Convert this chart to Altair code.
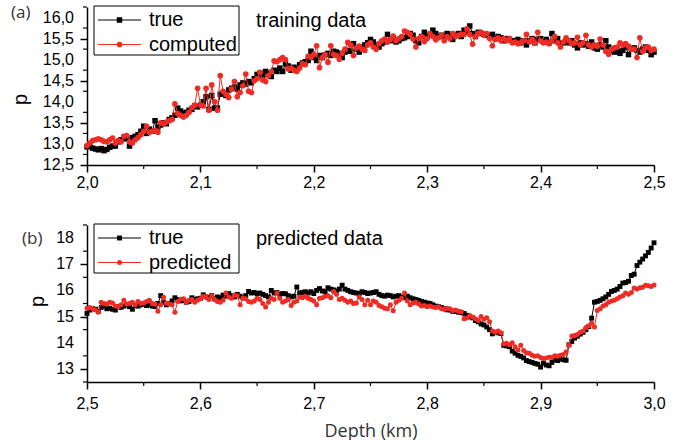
import altair as alt
import pandas as pd

# ---------------- data ----------------
depth_a = [round(2.0 + 0.0025 * i, 4) for i in range(201)]
depth_b = [round(2.5 + 0.0025 * i, 4) for i in range(201)]

true_a = [
    12.93, 12.95, 12.90, 12.88, 12.86, 12.89, 12.84, 12.87, 12.92, 12.95,
    12.95, 13.05, 13.10, 13.15, 13.12, 12.95, 13.15, 13.18, 13.22, 13.30,
    13.42, 13.25, 13.35, 13.30, 13.55, 13.40, 13.45, 13.50, 13.48, 13.58,
    13.62, 13.68, 13.85, 13.78, 13.72, 13.75, 13.80, 13.82, 13.90, 13.88,
    13.92, 14.00, 14.12, 13.82, 14.15, 13.85, 13.85, 14.18, 14.20, 14.15,
    14.28, 14.32, 14.35, 14.30, 14.40, 14.45, 14.42, 14.48, 14.45, 14.55,
    14.65, 14.68, 14.62, 14.72, 14.68, 14.60, 14.75, 14.72, 14.80, 14.72,
    14.90, 14.85, 14.75, 14.82, 14.78, 14.88, 14.92, 14.95, 14.98, 15.20,
    15.05, 14.98, 15.10, 15.05, 15.12, 15.15, 15.10, 15.20, 15.18, 15.15,
    15.05, 15.18, 15.22, 15.20, 15.38, 15.25, 15.18, 15.30, 15.35, 15.40,
    15.48, 15.42, 15.35, 15.30, 15.38, 15.42, 15.60, 15.45, 15.48, 15.42,
    15.45, 15.50, 15.52, 15.55, 15.62, 15.58, 15.45, 15.40, 15.55, 15.65,
    15.55, 15.60, 15.70, 15.62, 15.55, 15.58, 15.55, 15.62, 15.60, 15.48,
    15.58, 15.62, 15.55, 15.70, 15.65, 15.80, 15.62, 15.55, 15.65, 15.62,
    15.60, 15.58, 15.55, 15.60, 15.50, 15.55, 15.52, 15.45, 15.50, 15.48,
    15.45, 15.42, 15.48, 15.40, 15.45, 15.35, 15.45, 15.50, 15.40, 15.48,
    15.50, 15.42, 15.48, 15.40, 15.62, 15.45, 15.50, 15.38, 15.40, 15.45,
    15.40, 15.45, 15.35, 15.28, 15.40, 15.35, 15.38, 15.32, 15.42, 15.28,
    15.25, 15.35, 15.30, 15.45, 15.30, 15.22, 15.18, 15.20, 15.15, 15.22,
    15.30, 15.12, 15.25, 15.28, 15.22, 15.18, 15.25, 15.30, 15.22, 15.12,
    15.18,
]

computed_a = [
    12.96, 13.02, 13.08, 13.10, 13.12, 13.10, 13.06, 13.05, 13.10, 13.14,
    13.02, 13.08, 13.05, 13.18, 13.20, 13.05, 13.02, 13.10, 13.15, 13.22,
    13.30, 13.42, 13.28, 13.30, 13.32, 13.28, 13.50, 13.48, 13.52, 13.55,
    13.58, 13.95, 13.72, 13.68, 13.64, 13.68, 13.75, 13.86, 13.92, 14.32,
    13.92, 13.90, 14.32, 13.80, 14.40, 14.00, 13.80, 14.62, 14.25, 14.18,
    14.10, 14.30, 14.48, 14.12, 14.22, 14.38, 14.66, 14.25, 14.22, 14.50,
    14.55, 14.70, 14.52, 14.48, 14.62, 14.72, 14.97, 14.95, 15.00, 15.05,
    15.00, 14.78, 14.80, 14.75, 14.72, 14.80, 14.90, 14.88, 15.08, 15.06,
    15.12, 15.33, 14.81, 15.05, 15.12, 14.94, 15.33, 15.12, 15.10, 15.01,
    15.15, 15.25, 15.41, 15.35, 15.10, 15.28, 15.32, 15.25, 15.22, 15.35,
    15.40, 15.30, 15.25, 15.38, 15.45, 15.49, 15.42, 15.48, 15.56, 15.45,
    15.50, 15.55, 15.68, 15.65, 15.60, 15.49, 15.30, 15.50, 15.55, 15.43,
    15.50, 15.62, 15.55, 15.47, 15.52, 15.58, 15.45, 15.55, 15.50, 15.62,
    15.55, 15.58, 15.60, 15.60, 15.73, 15.60, 15.37, 15.55, 15.62, 15.65,
    15.58, 15.62, 15.50, 15.33, 15.48, 15.52, 15.45, 15.50, 15.45, 15.50,
    15.40, 15.42, 15.38, 15.40, 15.45, 15.60, 15.42, 15.48, 15.40, 15.65,
    15.45, 15.40, 15.42, 15.38, 15.45, 15.55, 15.40, 15.30, 15.42, 15.52,
    15.45, 15.38, 15.40, 15.53, 15.35, 15.40, 15.58, 15.35, 15.30, 15.35,
    15.32, 15.49, 15.35, 15.20, 15.13, 15.25, 15.28, 15.30, 15.40, 15.35,
    15.38, 15.32, 15.25, 15.25, 15.05, 15.52, 15.20, 15.28, 15.30, 15.22,
    15.25,
]

true_b = [
    15.12, 15.25, 15.30, 15.28, 15.20, 15.35, 15.40, 15.30, 15.32, 15.28,
    15.25, 15.38, 15.35, 15.40, 15.45, 15.38, 15.28, 15.42, 15.40, 15.45,
    15.48, 15.42, 15.45, 15.40, 15.38, 15.50, 15.80, 15.55, 15.45, 15.50,
    15.60, 15.72, 15.65, 15.60, 15.62, 15.55, 15.58, 15.72, 15.65, 15.68,
    15.70, 15.83, 15.75, 15.72, 15.80, 15.68, 15.75, 15.72, 15.82, 15.78,
    15.88, 15.80, 15.75, 15.85, 15.78, 15.72, 15.80, 15.96, 15.90, 15.92,
    15.88, 15.90, 15.85, 15.80, 15.75, 16.00, 15.90, 15.92, 15.85, 15.88,
    15.87, 15.80, 15.75, 15.78, 16.13, 15.90, 15.92, 15.95, 15.90, 15.95,
    15.88, 16.00, 16.07, 15.98, 15.95, 16.10, 16.05, 16.02, 15.98, 16.05,
    16.20, 16.05, 16.00, 15.95, 15.92, 15.90, 15.88, 15.95, 15.92, 15.88,
    15.90, 15.92, 15.95, 15.85, 15.80, 15.78, 15.82, 15.80, 15.75, 15.78,
    15.80, 15.75, 15.72, 15.78, 15.72, 15.68, 15.65, 15.62, 15.58, 15.55,
    15.52, 15.50, 15.45, 15.40, 15.38, 15.35, 15.30, 15.26, 15.25, 15.20,
    15.20, 15.17, 15.15, 15.12, 15.05, 15.00, 14.95, 14.85, 14.80, 14.72,
    14.68, 14.60, 14.50, 14.34, 14.40, 14.38, 14.35, 13.90, 13.88, 13.85,
    13.68, 13.60, 13.52, 13.48, 13.42, 13.32, 13.28, 13.25, 13.21, 13.18,
    13.07, 13.22, 13.15, 13.12, 13.25, 13.35, 13.32, 13.38, 13.35, 13.33,
    13.92, 14.05, 14.18, 14.25, 14.33, 14.40, 14.50, 14.62, 14.94, 15.55,
    15.58, 15.62, 15.68, 15.75, 15.85, 15.96, 16.00, 16.05, 16.15, 16.28,
    16.30, 16.35, 16.57, 16.62, 16.95, 17.08, 17.20, 17.32, 17.45, 17.62,
    17.82,
]

predicted_b = [
    15.32, 15.35, 15.30, 15.25, 15.17, 15.55, 15.50, 15.48, 15.55, 15.52,
    15.40, 15.38, 15.45, 15.62, 15.48, 15.50, 15.55, 15.45, 15.58, 15.50,
    15.52, 15.58, 15.62, 15.50, 15.48, 15.20, 15.45, 15.74, 15.52, 15.48,
    15.45, 15.17, 15.58, 15.66, 15.68, 15.55, 15.62, 15.65, 15.55, 15.62,
    15.68, 15.78, 15.75, 15.65, 15.80, 15.65, 15.58, 15.55, 15.62, 15.90,
    15.75, 15.70, 15.82, 15.80, 15.45, 15.70, 15.68, 15.58, 15.55, 15.60,
    15.70, 15.65, 15.50, 15.37, 15.55, 15.70, 15.65, 15.90, 15.70, 15.55,
    15.60, 15.65, 15.42, 15.55, 15.60, 15.75, 15.72, 15.78, 15.70, 15.65,
    15.60, 15.45, 15.70, 15.72, 15.78, 15.80, 15.72, 15.96, 15.85, 15.65,
    15.70, 15.62, 15.55, 15.60, 15.50, 15.52, 15.75, 15.65, 15.45, 15.62,
    15.45, 15.60, 15.55, 15.42, 15.38, 15.32, 15.30, 15.45, 15.22, 15.55,
    15.62, 15.70, 15.90, 15.60, 15.45, 15.52, 15.55, 15.48, 15.40, 15.42,
    15.38, 15.40, 15.37, 15.35, 15.38, 15.30, 15.28, 15.32, 15.30, 15.22,
    15.25, 15.20, 15.18, 14.92, 14.95, 15.04, 14.98, 14.92, 14.85, 15.00,
    14.90, 14.96, 14.80, 14.45, 14.40, 14.45, 14.38, 13.95, 13.98, 13.92,
    14.00, 13.85, 13.72, 13.90, 13.70, 13.62, 13.60, 13.52, 13.48, 13.50,
    13.44, 13.40, 13.42, 13.45, 13.44, 13.50, 13.48, 13.52, 13.55, 13.65,
    13.90, 14.26, 14.28, 14.32, 14.40, 14.45, 14.58, 14.65, 14.75, 14.60,
    15.23, 15.30, 15.40, 15.45, 15.55, 15.60, 15.62, 15.68, 15.75, 15.80,
    15.90, 15.85, 15.92, 16.09, 16.05, 16.10, 16.12, 16.20, 16.18, 16.15,
    16.21,
]

names_a = ["true", "computed"]
names_b = ["true", "predicted"]
panel_letters = ["(a)", "(b)"]
panel_notes = ["training data", "predicted data"]

xticks_a = [2.0, 2.1, 2.2, 2.3, 2.4, 2.5]
xminor_a = [2.05, 2.15, 2.25, 2.35, 2.45]
yticks_a = [12.5, 13.0, 13.5, 14.0, 14.5, 15.0, 15.5, 16.0]
ylabels_a = ["12,5", "13,0", "13,5", "14,0", "14,5", "15,0", "15,5", "16,0"]
yminor_a = [12.75, 13.25, 13.75, 14.25, 14.75, 15.25, 15.75, 16.25]

xticks_b = [2.5, 2.6, 2.7, 2.8, 2.9, 3.0]
xminor_b = [2.55, 2.65, 2.75, 2.85, 2.95]
yticks_b = [13, 14, 15, 16, 17, 18]
ylabels_b = ["13", "14", "15", "16", "17", "18"]
yminor_b = [12.5, 13.5, 14.5, 15.5, 16.5, 17.5, 18.5]

RED = "#ee2b24"
LABEL_FONT = "Liberation Sans"
TITLE_FONT = "Open Sans"
W = 567


def panel(depth, s_true, s_other, names, xdom, ydom, xt, xm, yt, ylab, ym,
          h, letter, note, sq, ci, xtitle, xlabpad, title_xy, letter_xy):
    df1 = pd.DataFrame({"depth": depth, "value": s_true})
    df2 = pd.DataFrame({"depth": depth, "value": s_other})

    xaxis = alt.Axis(
        values=xt, labelExpr="replace(format(datum.value, '.1f'), '.', ',')",
        labelPadding=xlabpad, title=xtitle, labelOverlap=False,
    )
    yaxis = alt.Axis(
        values=yt, labels=False, title="p",
        titleX=title_xy[0], titleY=title_xy[1],
        titleAlign="center", titleBaseline="middle", titleAngle=270,
    )
    xs = alt.Scale(domain=xdom, nice=False, zero=False)
    ys = alt.Scale(domain=ydom, nice=False, zero=False)

    line1 = alt.Chart(df1).mark_line(color="black", strokeWidth=1).encode(
        x=alt.X("depth:Q", scale=xs, axis=xaxis),
        y=alt.Y("value:Q", scale=ys, axis=yaxis))
    pts1 = alt.Chart(df1).mark_point(shape="square", filled=True, size=sq,
                                     color="black", opacity=1).encode(
        x="depth:Q", y="value:Q")
    line2 = alt.Chart(df2).mark_line(color=RED, strokeWidth=1).encode(
        x="depth:Q", y="value:Q")
    pts2 = alt.Chart(df2).mark_point(shape="circle", filled=True, size=ci,
                                     color=RED, opacity=1).encode(
        x="depth:Q", y="value:Q")

    xminor = alt.Chart(pd.DataFrame({"depth": xm})).mark_rule(
        color="black", strokeWidth=1.2).encode(
        x="depth:Q", y=alt.value(h), y2=alt.value(h + 4))
    yminor = alt.Chart(pd.DataFrame({"value": ym})).mark_rule(
        color="black", strokeWidth=1.2).encode(
        y="value:Q", x=alt.value(0), x2=alt.value(-4))

    ylabels = alt.Chart(pd.DataFrame({"value": yt, "lab": ylab})).mark_text(
        align="right", baseline="middle", font=LABEL_FONT, fontSize=16,
        color="black").encode(y="value:Q", x=alt.value(-13), text="lab:N")

    box = alt.Chart(pd.DataFrame({"k": [0]})).mark_rect(
        fill="white", stroke="black", strokeWidth=1).encode(
        x=alt.value(7), x2=alt.value(152), y=alt.value(-1), y2=alt.value(48))

    layers = [line1, pts1, line2, pts2, xminor, yminor, ylabels, box]
    rows_y = [13, 37.5]
    styles = [("black", "square", sq), (RED, "circle", ci)]
    for name, ry, (col, shp, sz) in zip(names, rows_y, styles):
        d = pd.DataFrame({"label": [name]})
        layers.append(alt.Chart(d).mark_rule(color=col, strokeWidth=1).encode(
            x=alt.value(11), x2=alt.value(54), y=alt.value(ry)))
        layers.append(alt.Chart(d).mark_point(shape=shp, filled=True, size=sz,
                                              color=col, opacity=1).encode(
            x=alt.value(32.5), y=alt.value(ry)))
        layers.append(alt.Chart(d).mark_text(align="left", baseline="middle",
                                             font=LABEL_FONT, fontSize=20,
                                             color="black").encode(
            x=alt.value(62), y=alt.value(ry), text="label:N"))

    layers.append(alt.Chart(pd.DataFrame({"t": [note]})).mark_text(
        align="left", baseline="middle", font=LABEL_FONT, fontSize=20,
        color="black").encode(x=alt.value(169), y=alt.value(14), text="t:N"))
    layers.append(alt.Chart(pd.DataFrame({"t": [letter]})).mark_text(
        align="left", baseline="middle", font=TITLE_FONT, fontSize=17,
        color="#333333").encode(x=alt.value(letter_xy[0]),
                                 y=alt.value(letter_xy[1]), text="t:N"))

    return alt.layer(*layers).properties(width=W, height=h)


top = panel(depth_a, true_a, computed_a, names_a, [2.0, 2.5], [12.5, 16.25],
            xticks_a, xminor_a, yticks_a, ylabels_a, yminor_a, 158,
            panel_letters[0], panel_notes[0], 30, 32, None, 2, (-67, 92), (-76, 6))
bottom = panel(depth_b, true_b, predicted_b, names_b, [2.5, 3.0], [12.5, 18.5],
               xticks_b, xminor_b, yticks_b, ylabels_b, yminor_b, 157,
               panel_letters[1], panel_notes[1], 24, 25, "Depth (km)", 6,
               (-50, 76), (-65, 13.5))

chart = alt.vconcat(top, bottom, spacing=60, bounds="flush").properties(
    padding={"left": 10, "top": 4, "right": 0, "bottom": 0},
    background="white",
).configure_view(stroke=None).configure_axis(
    tickSize=7, tickWidth=1.5, tickColor="black", domainColor="black",
    domainWidth=1.5, labelFont=LABEL_FONT, labelFontSize=16,
    labelColor="black", grid=False, labelFlush=False,
    titleFontWeight="normal",
).configure_axisY(
    titleFont=LABEL_FONT, titleFontSize=20, titleColor="black",
).configure_axisX(
    titleFont=TITLE_FONT, titleFontSize=18, titleColor="#333333",
    titlePadding=11,
)

chart.save("out.html", embed_options={"renderer": "svg", "actions": False})
